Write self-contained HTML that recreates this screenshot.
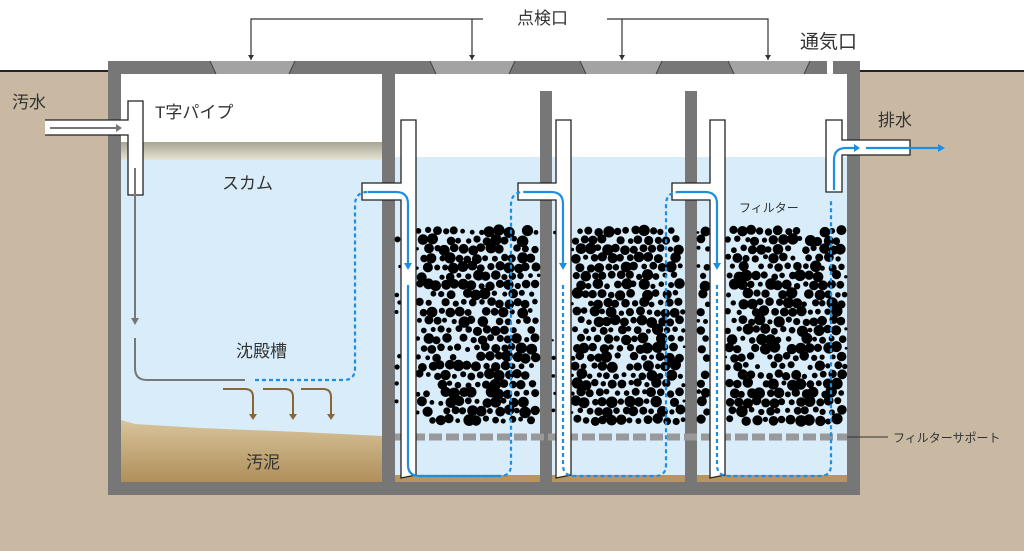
<!DOCTYPE html>
<html><head><meta charset="utf-8"><style>
html,body{margin:0;padding:0;background:#fff;width:1024px;height:551px;overflow:hidden}
svg{display:block}
text{font-family:"Liberation Sans","Noto Sans CJK JP",sans-serif;fill:#333}
</style></head><body>
<svg id="s" width="1024" height="551" viewBox="0 0 1024 551" xmlns="http://www.w3.org/2000/svg">
<defs>
<linearGradient id="sl" x1="0" y1="0" x2="0" y2="1"><stop offset="0" stop-color="#d8c49c"/><stop offset="1" stop-color="#b08f5a"/></linearGradient>
<linearGradient id="sc" x1="0" y1="0" x2="0" y2="1"><stop offset="0" stop-color="#a9a595"/><stop offset="1" stop-color="#e8e4d4"/></linearGradient>
</defs>
<rect x="0" y="70" width="1024" height="481" fill="#c9b9a3"/>
<line x1="0" y1="71" x2="108" y2="71" stroke="#222" stroke-width="2"/>
<line x1="860" y1="71" x2="1024" y2="71" stroke="#222" stroke-width="2"/>
<rect x="108" y="61" width="752" height="434" fill="#777"/>
<rect x="121" y="74" width="261" height="408" fill="#fff"/>
<rect x="395" y="74" width="452" height="408" fill="#fff"/>
<rect x="121" y="155" width="261" height="327" fill="#d8ecfa"/>
<rect x="395" y="157" width="452" height="325" fill="#d8ecfa"/>
<rect x="121" y="142" width="261" height="18" fill="url(#sc)"/>
<path d="M121 420 L135 424 L200 428 L300 432 L382 436 L382 482 L121 482Z" fill="url(#sl)"/>
<rect x="395" y="475" width="452" height="7" fill="#b8955e"/>
<rect x="540" y="91" width="12" height="391" fill="#777"/>
<rect x="685" y="91" width="12" height="391" fill="#777"/>
<g fill="#a3a3a3">
<path d="M210 61 L295 61 L289 74 L216 74Z"/>
<path d="M430 61 L515 61 L509 74 L436 74Z"/>
<path d="M580 61 L662 61 L656 74 L586 74Z"/>
<path d="M728 61 L810 61 L804 74 L734 74Z"/>
</g>
<g stroke="#444" stroke-width="1">
<path d="M210 61 L216 74 M295 61 L289 74 M430 61 L436 74 M515 61 L509 74 M580 61 L586 74 M662 61 L656 74 M728 61 L734 74 M810 61 L804 74"/>
</g>
<rect x="827" y="61" width="6" height="13" fill="#fff"/>
<g stroke="#333" stroke-width="1.2" fill="none">
<path d="M251 60 V19 H483"/><path d="M472 19 V60"/>
<path d="M607 19 H768 V60"/><path d="M622 19 V60"/>
</g>
<g fill="#333"><path d="M248 55 h6 l-3 5z"/><path d="M469 55 h6 l-3 5z"/><path d="M619 55 h6 l-3 5z"/><path d="M765 55 h6 l-3 5z"/></g>
<text x="517" y="24" font-size="17">点検口</text>
<text x="800" y="48" font-size="19">通気口</text>
<g id="media" fill="#000"></g>
<line x1="395" y1="437" x2="847" y2="437" stroke="#999" stroke-width="7" stroke-dasharray="13,4"/>
<line x1="847" y1="437" x2="888" y2="437" stroke="#333" stroke-width="1"/>
<g fill="#fff" stroke="#222" stroke-width="1.3">
<path d="M45 120 H128 V101 H143 V195 H128 V135 H45"/>
<path d="M401 120 H416 V475 L401 478 V200 H362 V183 H401Z"/>
<path d="M556 120 H571 V475 L556 478 V200 H518 V183 H556Z"/>
<path d="M710 120 H725 V475 L710 478 V200 H672 V183 H710Z"/>
<path d="M826 120 H842 V140 H910 V155 H842 V192 H826Z"/>
</g>
<g stroke="#777" stroke-width="2" fill="none">
<path d="M50 128 H120"/><path d="M135 168 V320"/><path d="M135 338 V368 Q135 380 147 380 H245"/>
</g>
<g fill="#777"><path d="M116 124 l6 4 -6 4z"/><path d="M131 318 h8 l-4 7z"/></g>
<g stroke="#8a6535" stroke-width="2" fill="none">
<path d="M223 389 H245 Q253 389 253 397 V415"/><path d="M263 389 H285 Q293 389 293 397 V415"/><path d="M301 389 H323 Q331 389 331 397 V415"/>
</g>
<g fill="#8a6535"><path d="M249 414 h8 l-4 6z"/><path d="M289 414 h8 l-4 6z"/><path d="M327 414 h8 l-4 6z"/></g>
<g stroke="#1e8fe0" stroke-width="2.2" fill="none">
<path d="M255 380 H344 Q355 380 355 368 V205 Q355 192 368 192" stroke-dasharray="4,3"/>
<path d="M368 192 H396 Q408 192 408 204 V265"/>
<path d="M408 285 V465 Q408 476 420 476 H500" />
<path d="M420 476 H500 Q511 476 511 465 V205 Q511 192 524 192" stroke-dasharray="4,3"/>
<path d="M524 192 H551 Q563 192 563 204 V265"/>
<path d="M563 285 V465 Q563 476 575 476 H655 Q666 476 666 465 V205 Q666 192 679 192" stroke-dasharray="4,3"/>
<path d="M679 192 H705 Q717 192 717 204 V265"/>
<path d="M717 285 V465 Q717 476 729 476 H820 Q831 476 831 465 V200" stroke-dasharray="4,3"/>
<path d="M834 190 V160 Q834 148 846 148 H856"/>
<path d="M866 148 H940"/>
</g>
<g fill="#1e8fe0"><path d="M404 263 h8 l-4 7z"/><path d="M559 263 h8 l-4 7z"/><path d="M713 263 h8 l-4 7z"/><path d="M854 144 l6 4 -6 4z"/><path d="M938 144 l7 4 -7 4z"/></g>
<text x="12" y="108" font-size="17">汚水</text>
<text x="155" y="118" font-size="17">T字パイプ</text>
<text x="222" y="189" font-size="17">スカム</text>
<text x="236" y="357" font-size="17">沈殿槽</text>
<text x="246" y="468" font-size="17">汚泥</text>
<text x="739" y="212" font-size="12">フィルター</text>
<text x="878" y="126" font-size="17">排水</text>
<text x="893" y="442" font-size="12">フィルターサポート</text>
</svg>
<script>
(function(){
var g=document.getElementById('media');
var seed=11;function r(){seed=(seed*16807)%2147483647;return seed/2147483647;}
var spans=[[395,401],[416,540],[552,556],[571,685],[697,710],[725,847]];
var html='';
var row=0;
for(var y=231;y<429;y+=9){
 row++;
 for(var x=396+(row%2)*4.5;x<847;x+=9){
  var rad=2.4+r()*3.4;
  var cx=x+(r()-0.5)*3,cy=y+(r()-0.5)*3;
  var ok=false;
  for(var i=0;i<spans.length;i++){var a=spans[i][0],b=spans[i][1];
    if(cx>a&&cx<b){ok=true;rad=Math.min(rad,cx-a+0.5,b-cx+0.5);}}
  if(!ok||rad<1.2||r()<0.06)continue;
  html+='<circle cx="'+cx.toFixed(1)+'" cy="'+cy.toFixed(1)+'" r="'+rad.toFixed(1)+'"/>';
 }
}
g.innerHTML=html;
})();
</script>
</body></html>
